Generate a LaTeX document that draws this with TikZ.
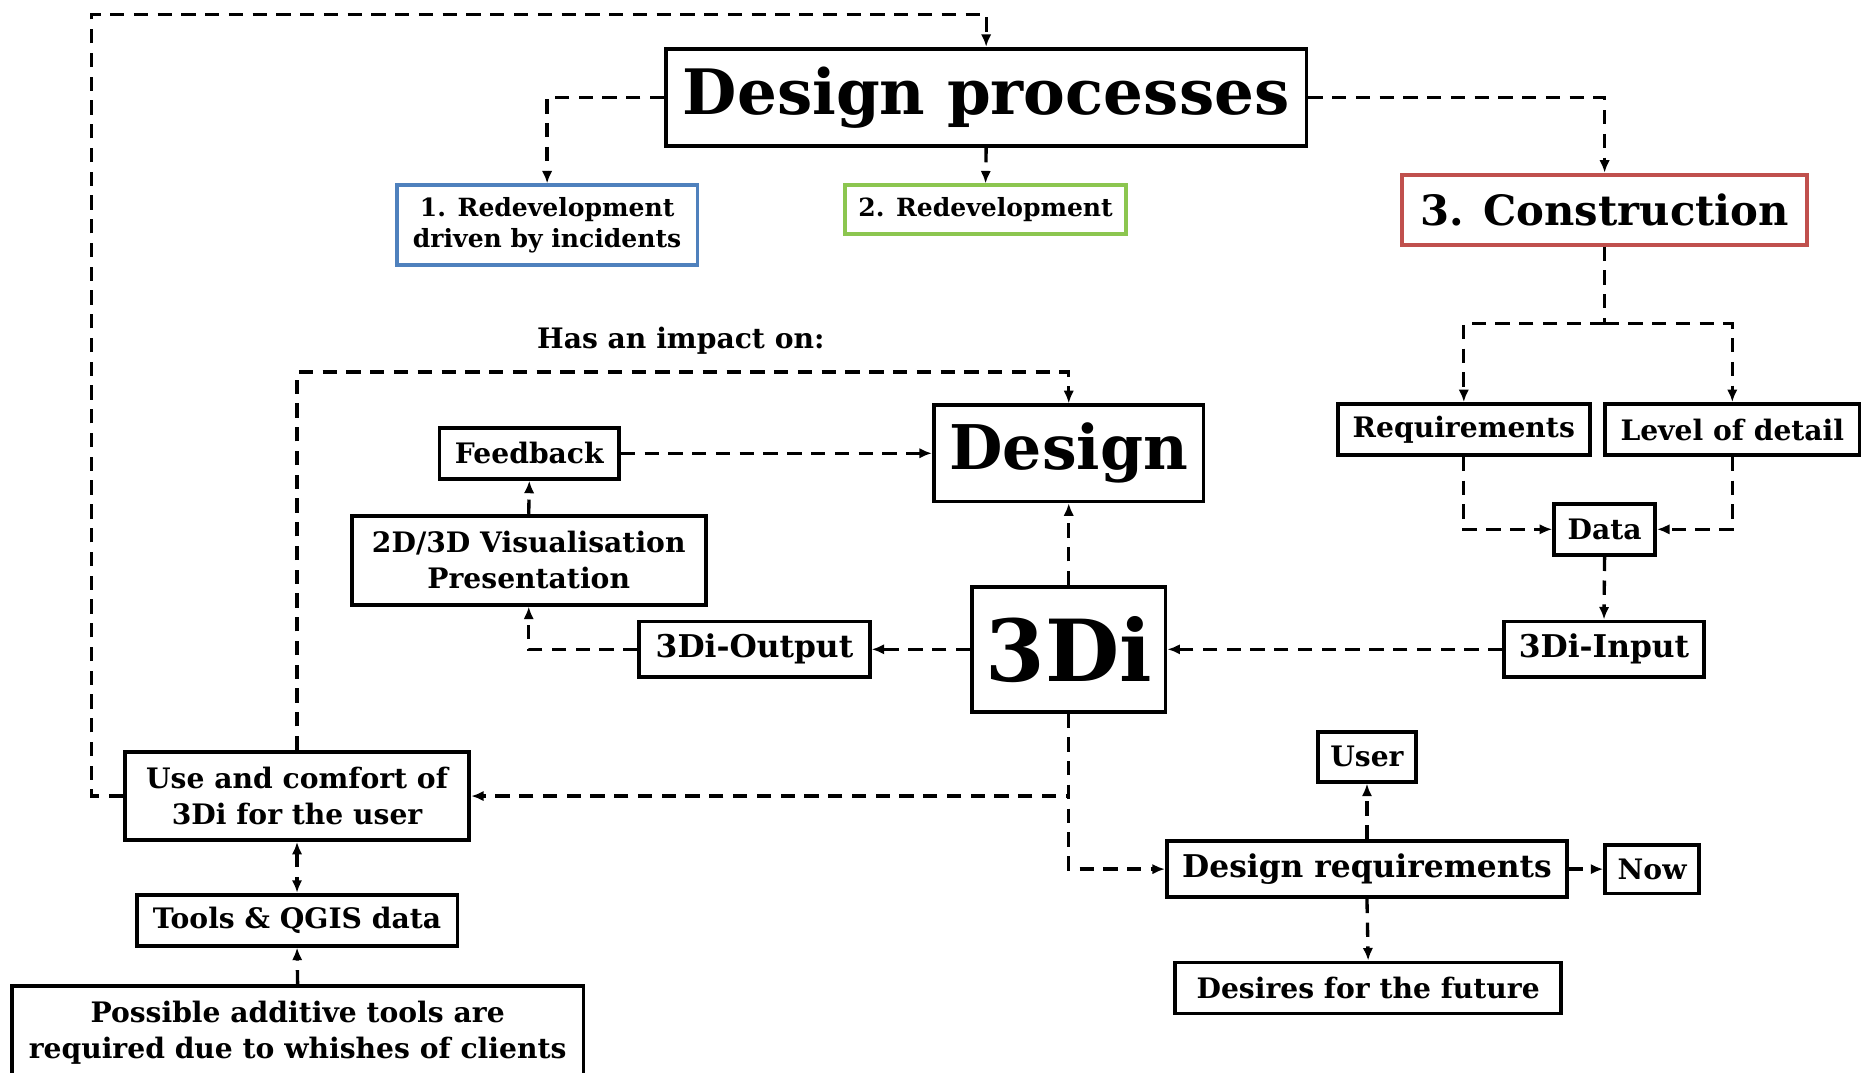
\documentclass[tikz,border=0pt]{standalone}
\usepackage{fontspec}
\setmainfont{DejaVu Serif}
\usetikzlibrary{arrows.meta}

\definecolor{boxblue}{RGB}{79,129,189}
\definecolor{boxgreen}{RGB}{140,198,80}
\definecolor{boxred}{RGB}{192,80,77}

\tikzset{
	box/.style={draw, line width=1.8pt, fill=white, inner sep=0pt, align=center,
		font=\bfseries\fontsize{13.5}{17}\selectfont},
	flow/.style={line width=1.6pt, dash pattern=on 0.24cm off 0.16cm},
	mid/.style={font=\bfseries\fontsize{15}{18}\selectfont},
}

\begin{document}
\begin{tikzpicture}[>={Latex[length=6pt,width=5pt]}]
	\useasboundingbox (0,0) rectangle (31.36,18.06);

	% Top row: design processes and the three cases
	\node[box, minimum width=10.78cm, minimum height=1.64cm, font=\bfseries\fontsize{30}{36}\selectfont] (dp) at (16.6,16.42) {Design processes};
	\node[box, draw=boxblue, minimum width=5.06cm, minimum height=1.34cm, font=\bfseries\fontsize{12}{14.7}\selectfont] (redev1) at (9.21,14.27) {1. Redevelopment\\driven by incidents};
	\node[box, draw=boxgreen, minimum width=4.74cm, minimum height=0.82cm, font=\bfseries\fontsize{12}{14.7}\selectfont] (redev2) at (16.59,14.53) {2. Redevelopment};
	\node[box, draw=boxred, minimum width=6.82cm, minimum height=1.18cm, font=\bfseries\fontsize{20}{24}\selectfont] (constr) at (27.01,14.53) {3. Construction};

	% Input side
	\node[box, minimum width=4.24cm, minimum height=0.86cm] (req) at (24.64,10.83) {Requirements};
	\node[box, minimum width=4.28cm, minimum height=0.86cm] (lod) at (29.16,10.83) {Level of detail};
	\node[box, minimum width=1.7cm, minimum height=0.86cm] (data) at (27.01,9.15) {Data};
	\node[box, mid, minimum width=3.36cm, minimum height=0.94cm] (input) at (27.0,7.13) {3Di-Input};

	% The model itself and the design
	\node[box, minimum width=3.26cm, minimum height=2.1cm, font=\bfseries\fontsize{41}{48}\selectfont] (tdi) at (17.99,7.13) {3Di};
	\node[box, minimum width=4.54cm, minimum height=1.62cm, font=\bfseries\fontsize{29.5}{35}\selectfont] (design) at (17.99,10.43) {Design};

	% Output side
	\node[box, mid, minimum width=3.88cm, minimum height=0.94cm] (output) at (12.7,7.13) {3Di-Output};
	\node[box, minimum width=5.96cm, minimum height=1.5cm] (vis) at (8.9,8.63) {2D/3D Visualisation\\Presentation};
	\node[box, minimum width=3.02cm, minimum height=0.86cm] (feedback) at (8.91,10.43) {Feedback};
	\node[font=\bfseries\fontsize{13.5}{17}\selectfont] (impact) at (11.46,12.32) {Has an impact on:};

	% User side
	\node[box, minimum width=5.8cm, minimum height=1.48cm] (use) at (5.0,4.66) {Use and comfort of\\3Di for the user};
	\node[box, minimum width=5.4cm, minimum height=0.86cm] (tools) at (5.0,2.57) {Tools \& QGIS data};
	\node[box, minimum width=9.62cm, minimum height=1.56cm] (extra) at (5.01,0.68) {Possible additive tools are\\required due to whishes of clients};

	% Design requirements
	\node[box, mid, minimum width=6.74cm, minimum height=0.94cm] (dreq) at (23.01,3.43) {Design requirements};
	\node[box, minimum width=1.66cm, minimum height=0.84cm] (user) at (23.01,5.32) {User};
	\node[box, minimum width=1.58cm, minimum height=0.82cm] (now) at (27.81,3.43) {Now};
	\node[box, minimum width=6.5cm, minimum height=0.86cm] (future) at (23.03,1.43) {Desires for the future};

	% Bend points
	\coordinate (loop) at (1.54,17.82);
	\coordinate (split) at (27.01,12.62);
	\coordinate (above) at (5.0,11.8);

	% Connectors from the design processes
	\draw[flow,->] (use.west) -| (loop) -| (dp.north);
	\draw[flow,->] (dp.west) -| (redev1.north);
	\draw[flow,->] (dp.south) -- (redev2.north);
	\draw[flow,->] (dp.east) -| (constr.north);

	% Construction to the model input
	\draw[flow] (constr.south) -- (split);
	\draw[flow,->] (split) -| (req.north);
	\draw[flow,->] (split) -| (lod.north);
	\draw[flow,->] (req.south) |- (data.west);
	\draw[flow,->] (lod.south) |- (data.east);
	\draw[flow,->] (data.south) -- (input.north);
	\draw[flow,->] (input.west) -- (tdi.east);

	% Model output and feedback
	\draw[flow,->] (tdi.west) -- (output.east);
	\draw[flow,->] (output.west) -| (vis.south);
	\draw[flow,->] (vis.north) -- (feedback.south);
	\draw[flow,->] (feedback.east) -- (design.west);
	\draw[flow,->] (tdi.north) -- (design.south);
	\draw[flow,->] (use.north) -- (above) -| (design.north);

	% Model towards the user and the requirements
	\draw[flow,->] (tdi.south) |- (use.east);
	\draw[flow,->] (tdi.south) |- (dreq.west);
	\draw[flow,<->] (use.south) -- (tools.north);
	\draw[flow,->] (extra.north) -- (tools.south);
	\draw[flow,->] (dreq.north) -- (user.south);
	\draw[flow,->] (dreq.east) -- (now.west);
	\draw[flow,->] (dreq.south) -- (future.north);
\end{tikzpicture}
\end{document}
